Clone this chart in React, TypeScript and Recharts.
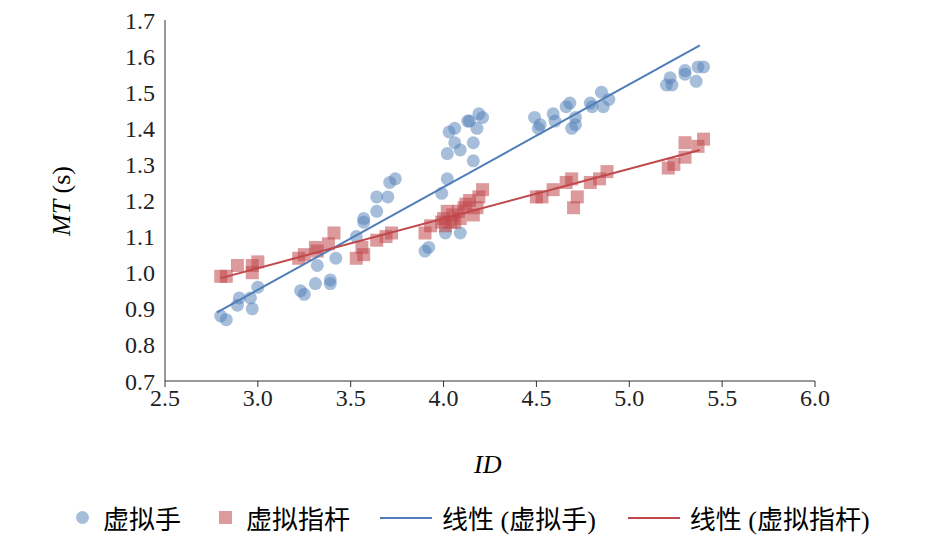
import React from 'react';
import { ComposedChart, Scatter, XAxis, YAxis } from 'recharts';

const handX = [2.80, 2.83, 2.89, 2.90, 2.96, 2.97, 3.00, 3.23, 3.25, 3.31, 3.32, 3.39, 3.39, 3.42, 3.53, 3.57, 3.57, 3.64, 3.64, 3.70, 3.71, 3.74, 3.90, 3.92, 3.99, 4.01, 4.02, 4.02, 4.03, 4.06, 4.06, 4.09, 4.09, 4.13, 4.14, 4.16, 4.16, 4.18, 4.19, 4.21, 4.49, 4.51, 4.52, 4.59, 4.60, 4.66, 4.68, 4.69, 4.71, 4.71, 4.79, 4.80, 4.85, 4.86, 4.89, 5.20, 5.22, 5.23, 5.30, 5.30, 5.36, 5.37, 5.40];
const handY = [0.88, 0.87, 0.91, 0.93, 0.93, 0.90, 0.96, 0.95, 0.94, 0.97, 1.02, 0.98, 0.97, 1.04, 1.10, 1.15, 1.14, 1.17, 1.21, 1.21, 1.25, 1.26, 1.06, 1.07, 1.22, 1.11, 1.26, 1.33, 1.39, 1.40, 1.36, 1.34, 1.11, 1.42, 1.42, 1.31, 1.36, 1.40, 1.44, 1.43, 1.43, 1.40, 1.41, 1.44, 1.42, 1.46, 1.47, 1.40, 1.41, 1.43, 1.47, 1.46, 1.50, 1.46, 1.48, 1.52, 1.54, 1.52, 1.55, 1.56, 1.53, 1.57, 1.57];
const stickX = [2.80, 2.83, 2.89, 2.97, 2.97, 3.00, 3.22, 3.25, 3.31, 3.32, 3.38, 3.41, 3.53, 3.56, 3.57, 3.64, 3.69, 3.72, 3.90, 3.93, 3.99, 4.00, 4.01, 4.02, 4.04, 4.05, 4.06, 4.08, 4.09, 4.11, 4.12, 4.14, 4.16, 4.18, 4.19, 4.21, 4.50, 4.53, 4.59, 4.66, 4.69, 4.70, 4.72, 4.79, 4.84, 4.88, 5.21, 5.24, 5.30, 5.30, 5.37, 5.40];
const stickY = [0.99, 0.99, 1.02, 1.00, 1.02, 1.03, 1.04, 1.05, 1.07, 1.06, 1.08, 1.11, 1.04, 1.07, 1.05, 1.09, 1.10, 1.11, 1.11, 1.13, 1.14, 1.15, 1.13, 1.17, 1.14, 1.16, 1.14, 1.17, 1.15, 1.18, 1.19, 1.20, 1.16, 1.18, 1.21, 1.23, 1.21, 1.21, 1.23, 1.25, 1.26, 1.18, 1.21, 1.25, 1.26, 1.28, 1.29, 1.30, 1.32, 1.36, 1.35, 1.37];
const handTrendX = [2.78, 5.38];
const handTrendY = [0.89, 1.63];
const stickTrendX = [2.80, 5.38];
const stickTrendY = [0.985, 1.34];
const xTicks = [2.5, 3.0, 3.5, 4.0, 4.5, 5.0, 5.5, 6.0];
const yTicks = [0.7, 0.8, 0.9, 1.0, 1.1, 1.2, 1.3, 1.4, 1.5, 1.6, 1.7];

const zip = (xs: number[], ys: number[]) => xs.map((x, i) => ({ x, y: ys[i] }));
const handData = zip(handX, handY);
const stickData = zip(stickX, stickY);
const handTrend = zip(handTrendX, handTrendY);
const stickTrend = zip(stickTrendX, stickTrendY);

const BLUE = '#4f7db8';
const RED = '#c0474a';
const font = '"Liberation Serif", "Noto Sans CJK SC", serif';

const Circle = (p: any) => <circle cx={p.cx} cy={p.cy} r={6.5} fill={BLUE} fillOpacity={0.5} />;
const Square = (p: any) => <rect x={p.cx - 6.5} y={p.cy - 6.5} width={13} height={13} fill={RED} fillOpacity={0.55} />;
const NoDot = () => <g />;

export default function App() {
  const tick = { fontSize: 24, fill: '#222' };
  return (
    <div style={{ position: 'absolute', left: 0, top: 0, width: 945, height: 539, background: '#fff', fontFamily: font }}>
      <ComposedChart width={945} height={539} margin={{ top: 20, right: 130, bottom: 118, left: 100 }} style={{ fontFamily: font }}>
        <XAxis type="number" dataKey="x" domain={[2.5, 6.0]} ticks={xTicks} tickFormatter={(v) => v.toFixed(1)}
          stroke="#333" tick={tick} tickSize={6} height={40} style={{ fontFamily: font }} />
        <YAxis type="number" dataKey="y" domain={[0.7, 1.7]} ticks={yTicks} tickFormatter={(v) => v.toFixed(1)}
          stroke="#333" tick={tick} tickSize={0} tickMargin={10} width={65} style={{ fontFamily: font }} />
        <Scatter data={handData} shape={Circle} isAnimationActive={false} />
        <Scatter data={stickData} shape={Square} isAnimationActive={false} />
        <Scatter data={handTrend} shape={NoDot} line={{ stroke: BLUE, strokeWidth: 2 }} isAnimationActive={false} />
        <Scatter data={stickTrend} shape={NoDot} line={{ stroke: RED, strokeWidth: 2 }} isAnimationActive={false} />
      </ComposedChart>
      <div style={{ position: 'absolute', left: 12, top: 186, transform: 'rotate(-90deg)', fontSize: 26, whiteSpace: 'nowrap', width: 100, textAlign: 'center' }}>
        <i>MT</i> (s)
      </div>
      <div style={{ position: 'absolute', left: 474, top: 450, fontSize: 26 }}><i>ID</i></div>
      <div style={{ position: 'absolute', left: 76, top: 499, fontSize: 26, display: 'flex', alignItems: 'center', whiteSpace: 'nowrap' }}>
        <span style={{ width: 13, height: 13, borderRadius: 7, background: BLUE, opacity: 0.5, marginRight: 14 }} />
        <span style={{ marginRight: 38 }}>虚拟手</span>
        <span style={{ width: 13, height: 13, background: RED, opacity: 0.55, marginRight: 14 }} />
        <span style={{ marginRight: 30 }}>虚拟指杆</span>
        <span style={{ width: 52, height: 2, background: BLUE, marginRight: 10 }} />
        <span style={{ marginRight: 32 }}>线性 (虚拟手)</span>
        <span style={{ width: 52, height: 2, background: RED, marginRight: 10 }} />
        <span>线性 (虚拟指杆)</span>
      </div>
    </div>
  );
}
